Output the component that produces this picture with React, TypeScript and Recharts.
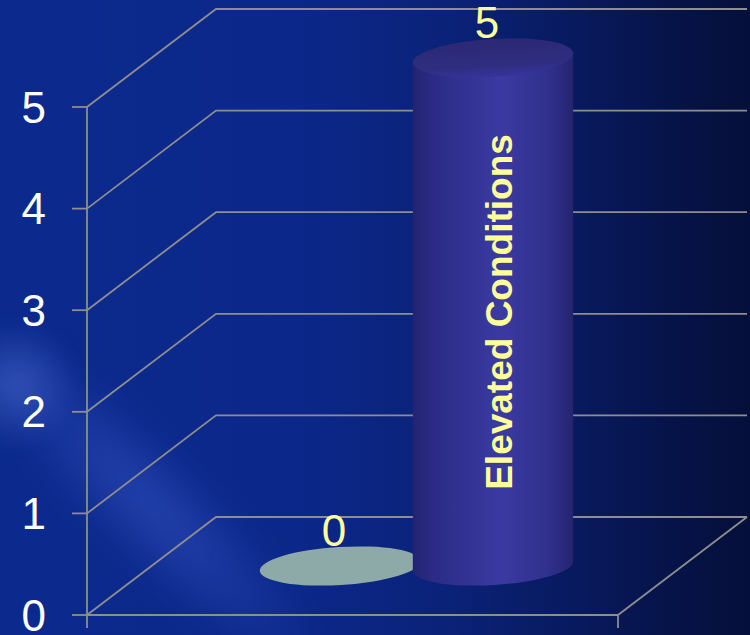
import React from "react";
import { BarChart, Bar, XAxis, YAxis, CartesianGrid, LabelList } from "recharts";

const categories = ["", "Elevated Conditions"];
const values = [0, 5];
const yTicks = [0, 1, 2, 3, 4, 5];

const data = categories.map((name, i) => ({ name, value: values[i] }));

const DX = 129; // depth offset (x)
const DY = 98; // depth offset (y)
const GRID = "#8e8e8e";
const GW = 1.8;
const FONT = "Arial, 'Liberation Sans', Helvetica, sans-serif";
const LABEL_COLOR = "#ffff99";
const TILT = -3.5;
const RY = 19;

const renderGridLine = (props: any) => {
  const { x1, x2, y1, key, y, height, index } = props;
  const isBottom =
    typeof y === "number" && typeof height === "number"
      ? Math.abs(y1 - (y + height)) < 1
      : index === 0;
  return (
    <g key={key}>
      <path
        d={`M${x1},${y1} L${x1 + DX},${y1 - DY} L${x2 + DX},${y1 - DY}`}
        stroke={GRID}
        strokeWidth={GW}
        fill="none"
      />
      {isBottom && (
        <path
          d={`M${x2},${y1} L${x2 + DX},${y1 - DY} M${x1},${y1} L${x1},${y1 + 13} M${x2},${y1} L${x2},${y1 + 13}`}
          stroke={GRID}
          strokeWidth={GW}
          fill="none"
        />
      )}
    </g>
  );
};

const Cylinder = (props: any) => {
  const { x, y, width, height, index } = props;
  const cx = x + width / 2 + DX / 2;
  const top = y - DY / 2;
  const bottom = y + height - DY / 2;
  const rx = (width / 2) * 1.05;
  const t = (TILT * Math.PI) / 180;
  const ex = rx * Math.cos(t);
  const ey = rx * Math.sin(t);
  if (!height || height < 0.5) {
    return (
      <ellipse
        cx={cx}
        cy={bottom}
        rx={rx}
        ry={RY}
        fill="#8eaaa8"
        transform={`rotate(${TILT} ${cx} ${bottom})`}
      />
    );
  }
  const gid = `cylBody${index}`;
  const tid = `cylTop${index}`;
  return (
    <g>
      <defs>
        <linearGradient id={gid} x1="0" y1="0" x2="1" y2="0">
          <stop offset="0%" stopColor="#232372" />
          <stop offset="12%" stopColor="#2b2b86" />
          <stop offset="55%" stopColor="#3a3aa2" />
          <stop offset="85%" stopColor="#30308c" />
          <stop offset="100%" stopColor="#242470" />
        </linearGradient>
        <linearGradient id={tid} x1="0" y1="0" x2="0" y2="1">
          <stop offset="0%" stopColor="#2b2974" />
          <stop offset="70%" stopColor="#2f2d80" />
          <stop offset="100%" stopColor="#36349a" />
        </linearGradient>
      </defs>
      <path
        d={`M${cx - ex},${top - ey} L${cx - ex},${bottom - ey} A${rx},${RY} ${TILT} 0 0 ${cx + ex},${bottom + ey} L${cx + ex},${top + ey} Z`}
        fill={`url(#${gid})`}
      />
      <ellipse
        cx={cx}
        cy={top}
        rx={rx}
        ry={RY}
        fill={`url(#${tid})`}
        transform={`rotate(${TILT} ${cx} ${top})`}
      />
    </g>
  );
};

const ValueLabel = (props: any) => {
  const vb = props.viewBox || {};
  const x = props.x ?? vb.x;
  const y = props.y ?? vb.y;
  const width = props.width ?? vb.width;
  const cx = x + width / 2 + DX / 2 - 6;
  const top = y - DY / 2;
  return (
    <text
      x={cx}
      y={top - 20}
      textAnchor="middle"
      fill={LABEL_COLOR}
      fontSize={44}
      fontFamily={FONT}
    >
      {props.value}
    </text>
  );
};

const NameLabel = (props: any) => {
  const vb = props.viewBox || {};
  const x = props.x ?? vb.x;
  const y = props.y ?? vb.y;
  const width = props.width ?? vb.width;
  const height = props.height ?? vb.height;
  if (!props.value || !height || height < 100) return null;
  const cx = x + width / 2 + DX / 2;
  const px = cx + 19;
  const py = y + height / 2 - DY / 2;
  return (
    <text
      x={px}
      y={py}
      textAnchor="middle"
      fill={LABEL_COLOR}
      fontSize={37}
      fontWeight="bold"
      fontFamily={FONT}
      transform={`rotate(-90 ${px} ${py})`}
    >
      {props.value}
    </text>
  );
};

export default function App() {
  return (
    <div
      style={{
        position: "absolute",
        left: 0,
        top: 0,
        width: 750,
        height: 635,
        overflow: "hidden",
        background:
          "linear-gradient(90deg, #0c2a8e 0%, #0b2789 40%, #0a2278 60%, #08195c 78%, #061348 90%, #050f3a 100%)",
      }}
    >
      <div
        style={{
          position: "absolute",
          left: -70,
          top: 450,
          width: 440,
          height: 110,
          background:
            "radial-gradient(ellipse at center, rgba(70,100,215,0.42) 0%, rgba(60,90,210,0.2) 45%, rgba(40,70,200,0) 75%)",
          transform: "rotate(45deg)",
          filter: "blur(14px)",
        }}
      />
      <div
        style={{
          position: "absolute",
          left: -50,
          top: 320,
          width: 130,
          height: 130,
          background:
            "radial-gradient(circle at center, rgba(90,120,220,0.45) 0%, rgba(90,120,220,0) 70%)",
          filter: "blur(8px)",
        }}
      />
      <div style={{ position: "absolute", left: 0, top: 0 }}>
        <BarChart
          width={750}
          height={635}
          data={data}
          margin={{ top: 107, right: 132, bottom: 0, left: 0 }}
          barCategoryGap={0}
        >
          <CartesianGrid vertical={false} horizontal={renderGridLine} />
          <XAxis
            dataKey="name"
            height={20}
            tick={false}
            tickLine={false}
            axisLine={{ stroke: GRID, strokeWidth: GW }}
            padding={{ left: 112, right: 113 }}
          />
          <YAxis
            width={87}
            domain={[0, 5]}
            ticks={yTicks}
            interval={0}
            tickSize={15}
            tickMargin={26}
            axisLine={{ stroke: GRID, strokeWidth: GW }}
            tickLine={{ stroke: GRID, strokeWidth: GW }}
            tick={{ fill: "#ffffff", fontSize: 44, fontFamily: FONT }}
          />
          <Bar dataKey="value" shape={Cylinder} isAnimationActive={false}>
            <LabelList dataKey="value" content={ValueLabel} />
            <LabelList dataKey="name" content={NameLabel} />
          </Bar>
        </BarChart>
      </div>
    </div>
  );
}
